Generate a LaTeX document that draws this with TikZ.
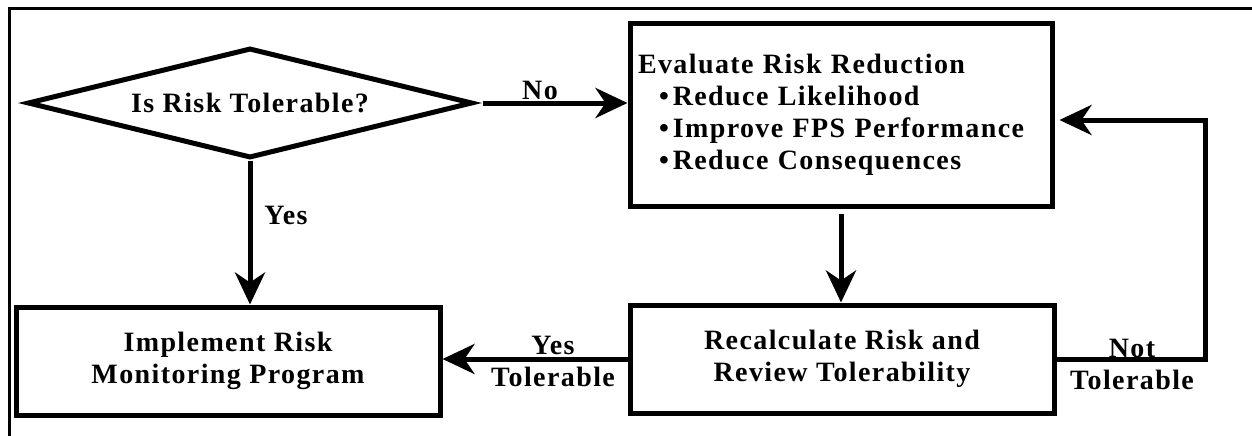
\documentclass[tikz,border=0pt]{standalone}
\usepackage{fontspec}
\setmainfont{Liberation Serif}[LetterSpace=5]
\usetikzlibrary{positioning, arrows.meta, shapes.geometric}

\begin{document}
\begin{tikzpicture}[x=1pt, y=-1pt, font=\bfseries\fontsize{28}{32}\selectfont,
  >={Stealth[length=32pt, width=30pt, inset=10pt]},
  bx/.style={draw, line width=5pt, inner sep=0pt, align=center},
  dec/.style={draw, shape=diamond, aspect=4, line width=5pt, inner sep=0pt,
              minimum width=445, minimum height=110},
  s/.style={->, line width=5pt},
  lbl/.style={align=center, inner sep=0pt}]
\useasboundingbox (0,0) rectangle (1252,436);
% Frame, cut off at the right and at the bottom.
\draw[line width=3pt] (9,436) -- (9,9) -- (1252,9);
% Decision (left).
\node[dec] (tolerable) at (250,103) {Is Risk Tolerable?};
\node[bx, minimum width=424, minimum height=108] (implement) at (228,361)
  {Implement Risk\\Monitoring Program};
% Reduction loop (right).
\node[bx, minimum width=422, minimum height=183, align=left, text width=406] (evaluate) at (841,115)
  {Evaluate Risk Reduction\\
   \hspace*{21pt}\textbullet\hspace{4pt}Reduce Likelihood\\
   \hspace*{21pt}\textbullet\hspace{4pt}Improve FPS Performance\\
   \hspace*{21pt}\textbullet\hspace{4pt}Reduce Consequences};
\node[bx, minimum width=424, minimum height=108] (recalc) at (842,359)
  {Recalculate Risk and\\Review Tolerability};
\coordinate (turn) at (1205,120);
% Connectors.
\draw[s, shorten <=8pt] (tolerable.east) -- (tolerable.east -| evaluate.west);
\draw[s] (tolerable.south) -- (tolerable.south |- implement.north);
\draw[s, shorten <=5pt] (evaluate.south) -- (evaluate.south |- recalc.north);
\draw[s] (recalc.west) -- (recalc.west -| implement.east);
\draw[s, shorten >=5pt] (recalc.east) -| (turn) -- (turn -| evaluate.east);
% Labels.
\node[lbl] (no) at (540,90) {No};
\node[lbl] (yes) at (286,215) {Yes};
\node[lbl] (yestol) at (553,361) {Yes\\Tolerable};
\node[lbl] (nottol) at (1132,364) {Not\\Tolerable};
\end{tikzpicture}
\end{document}
